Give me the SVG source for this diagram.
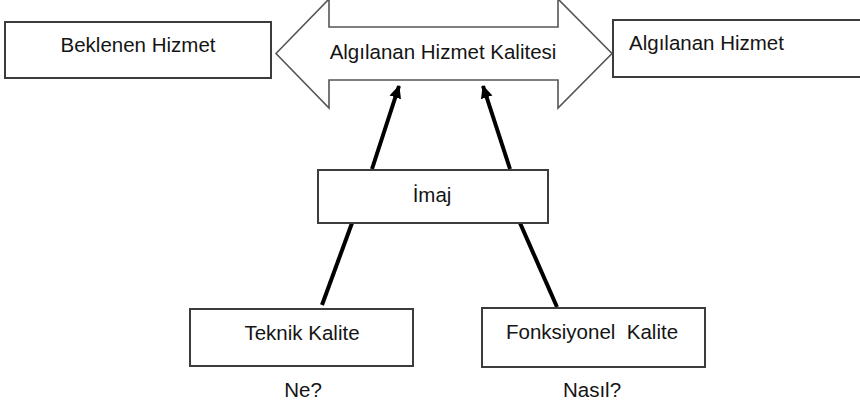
<svg xmlns="http://www.w3.org/2000/svg" width="860" height="406" viewBox="0 0 860 406">
  <style>
    .box { fill: #ffffff; stroke: #3c3c3c; stroke-width: 2; }
    .big { fill: #ffffff; stroke: #555555; stroke-width: 1.6; stroke-linejoin: miter; }
    .lbl { font-family: "Liberation Sans", Arial, sans-serif; font-size: 20.5px; fill: #141414; white-space: pre; }
    .mid { text-anchor: middle; }
    .con { stroke: #000000; stroke-width: 4; fill: none; }
  </style>
  <defs>
    <marker id="ah" markerUnits="userSpaceOnUse" markerWidth="14" markerHeight="14" viewBox="0 0 14 14" refX="12" refY="7" orient="auto">
      <path d="M0,1 L13,7 L0,13 Z" fill="#000000"/>
    </marker>
  </defs>
  <rect width="860" height="406" fill="#ffffff"/>

  <g id="beklenen">
    <rect class="box" x="5" y="22" width="266" height="56"/>
    <text class="lbl mid" x="138" y="52">Beklenen Hizmet</text>
  </g>

  <g id="algilanan">
    <rect class="box" x="613" y="20" width="260" height="57"/>
    <text class="lbl" x="629" y="50">Algılanan Hizmet</text>
  </g>

  <g id="kalite">
    <polygon class="big" points="276,53.5 329,-1 329,27 558,27 558,-1 612,53.5 558,108 558,80 329,80 329,108"/>
    <text class="lbl mid" x="443" y="59">Algılanan Hizmet Kalitesi</text>
  </g>

  <g id="connectors">
    <line class="con" x1="372" y1="169" x2="399" y2="86" marker-end="url(#ah)"/>
    <line class="con" x1="510" y1="169" x2="483" y2="86" marker-end="url(#ah)"/>
    <line class="con" x1="352" y1="223" x2="322" y2="305"/>
    <line class="con" x1="520" y1="223" x2="557" y2="307"/>
  </g>

  <g id="imaj">
    <rect class="box" x="318" y="170" width="230" height="53"/>
    <text class="lbl mid" x="432" y="202">İmaj</text>
  </g>

  <g id="teknik">
    <rect class="box" x="190" y="309" width="223" height="57"/>
    <text class="lbl mid" x="302" y="340">Teknik Kalite</text>
    <text class="lbl mid" x="303" y="397">Ne?</text>
  </g>

  <g id="fonksiyonel">
    <rect class="box" x="482" y="308" width="223" height="59"/>
    <text class="lbl mid" x="592" y="339" xml:space="preserve">Fonksiyonel  Kalite</text>
    <text class="lbl mid" x="592" y="397">Nasıl?</text>
  </g>
</svg>
